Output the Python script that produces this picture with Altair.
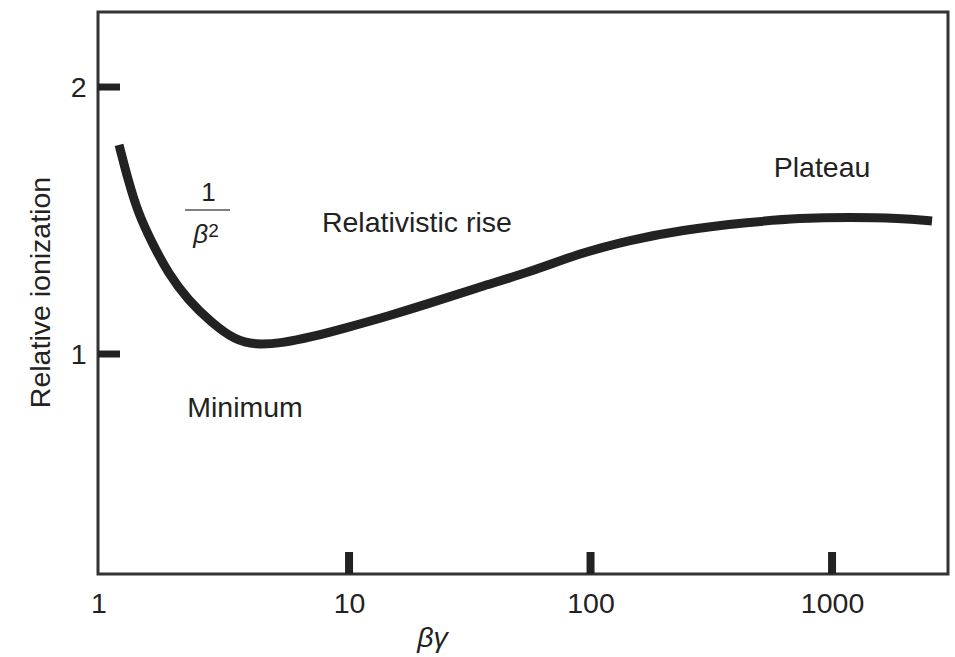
import altair as alt
import pandas as pd

# curve
beta_gamma = [1.116, 1.216, 1.338, 1.529, 1.781, 2.154, 2.708, 3.373, 4.08, 5.28, 7.03, 9.62,
              14.5, 21.6, 34.9, 56.2, 90.5, 145.8, 234.8, 457, 737, 1186, 1910, 2594]
rel_ion = [1.783, 1.652, 1.528, 1.416, 1.303, 1.202, 1.116, 1.052, 1.034, 1.041, 1.064, 1.097,
           1.142, 1.190, 1.252, 1.307, 1.378, 1.427, 1.464, 1.494, 1.509, 1.513, 1.509, 1.498]

x_tick_values = [10, 100, 1000]
x_label_values = [1, 10, 100, 1000]
y_tick_values = [1, 2]

ann_text = ["Plateau", "Relativistic rise", "Minimum"]
ann_x = [909, 19.1, 3.71]
ann_y = [1.697, 1.491, 0.798]

W, H = 850, 562
FONT = "Liberation Sans"
INK = "#222222"
FS = 28.5

xs = alt.Scale(type="log", domain=[0.913, 3021], nice=False)
ys = alt.Scale(domain=[0.176, 2.281], nice=False, zero=False)

curve_df = pd.DataFrame({"bg": beta_gamma, "ri": rel_ion})

line = alt.Chart(curve_df).mark_line(color=INK, strokeWidth=9, interpolate="basis").encode(
    x=alt.X("bg:Q", scale=xs,
            axis=alt.Axis(values=x_label_values, format="d", title="βγ", ticks=False, domain=False, grid=False,
                          labelFontSize=FS, labelFont=FONT, labelColor=INK, labelPadding=15,
                          labelOffset={"condition": {"test": "datum.value == 1", "value": -9}, "value": 0},
                          titleFont=FONT, titleFontSize=FS, titleFontStyle="italic", titleFontWeight="normal",
                          titleColor=INK, titleX=334, titleY=63, titleBaseline="middle", titleAlign="center")),
    y=alt.Y("ri:Q", scale=ys,
            axis=alt.Axis(values=y_tick_values, format="d", title="Relative ionization", ticks=False, domain=False,
                          grid=False, labelFontSize=FS, labelFont=FONT, labelColor=INK, labelPadding=12,
                          titleFont=FONT, titleFontSize=FS, titleFontWeight="normal", titleColor=INK,
                          titleAngle=-90, titleX=-58, titleY=280, titleBaseline="middle", titleAlign="center")),
)

xt = alt.Chart(pd.DataFrame({"v": x_tick_values})).mark_rule(color=INK, strokeWidth=8).encode(
    x=alt.X("v:Q", scale=xs), y=alt.value(H), y2=alt.value(H - 22))

yt = alt.Chart(pd.DataFrame({"v": y_tick_values})).mark_rule(color=INK, strokeWidth=7).encode(
    y=alt.Y("v:Q", scale=ys), x=alt.value(0), x2=alt.value(22))

ann = alt.Chart(pd.DataFrame({"t": ann_text, "x": ann_x, "y": ann_y})).mark_text(
    font=FONT, fontSize=FS, color=INK, align="center", baseline="middle").encode(
    x=alt.X("x:Q", scale=xs), y=alt.Y("y:Q", scale=ys), text="t:N")

# 1 / beta^2 label
one = alt.Chart(pd.DataFrame({"t": ["1"], "x": [2.62], "y": [1.603]})).mark_text(
    font=FONT, fontSize=26, color=INK, align="center", baseline="middle").encode(
    x=alt.X("x:Q", scale=xs), y=alt.Y("y:Q", scale=ys), text="t:N")

frac_line = alt.Chart(pd.DataFrame({"x1": [2.094], "x2": [3.215], "y": [1.539]})).mark_rule(
    color="#555555", strokeWidth=1.5).encode(
    x=alt.X("x1:Q", scale=xs), x2="x2:Q", y=alt.Y("y:Q", scale=ys))

beta = alt.Chart(pd.DataFrame({"t": ["β"], "x": [2.43], "y": [1.416]})).mark_text(
    font=FONT, fontSize=26, fontStyle="italic", color=INK, align="center", baseline="alphabetic").encode(
    x=alt.X("x:Q", scale=xs), y=alt.Y("y:Q", scale=ys), text="t:N")

sup2 = alt.Chart(pd.DataFrame({"t": ["2"], "x": [2.75], "y": [1.438]})).mark_text(
    font=FONT, fontSize=19, color=INK, align="center", baseline="alphabetic").encode(
    x=alt.X("x:Q", scale=xs), y=alt.Y("y:Q", scale=ys), text="t:N")

chart = alt.layer(line, xt, yt, ann, one, frac_line, beta, sup2).properties(
    width=W, height=H,
    autosize=alt.AutoSizeParams(type="none"),
    padding={"left": 98, "top": 12, "right": 7, "bottom": 83},
    background="white",
).configure_view(stroke="#333333", strokeWidth=3)

chart.save("out.html", embed_options={"renderer": "svg", "actions": False})
